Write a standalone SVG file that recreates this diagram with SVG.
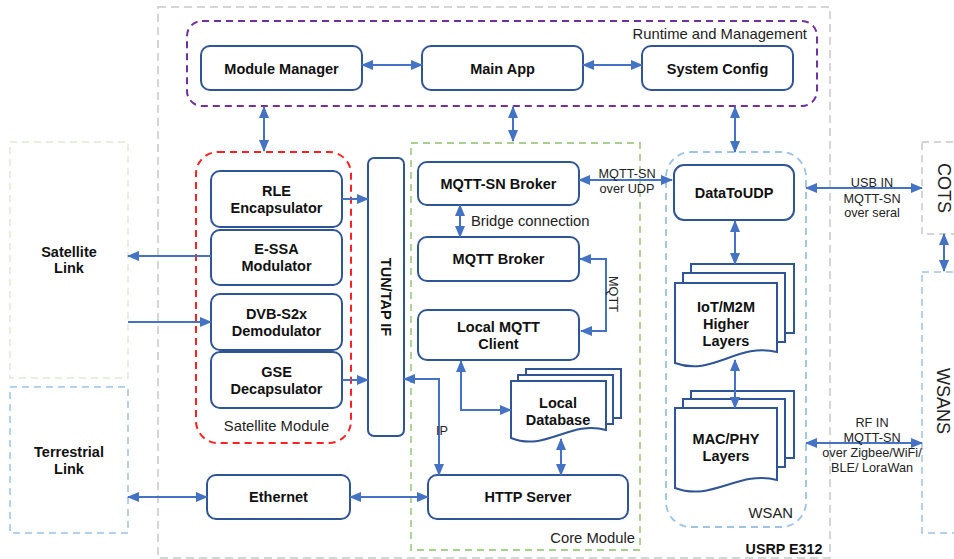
<svg xmlns="http://www.w3.org/2000/svg" width="954" height="559" viewBox="0 0 954 559">
<style>
.box{fill:#fff;stroke:#2F5597;stroke-width:2}
.doc{fill:#fff;stroke:#2F5597;stroke-width:2;stroke-linejoin:miter}
.t{font-family:"Liberation Sans",Arial,sans-serif;font-weight:bold;font-size:14.5px;fill:#111;text-anchor:middle}
.l{font-family:"Liberation Sans",Arial,sans-serif;font-size:14.8px;fill:#222}
.s{font-family:"Liberation Sans",Arial,sans-serif;font-size:12.7px;fill:#222;text-anchor:middle}
.big{font-family:"Liberation Sans",Arial,sans-serif;font-size:18px;fill:#222;text-anchor:middle}
.grp{fill:none}
.c{fill:none;stroke:#4472C4;stroke-width:2;marker-end:url(#ah)}
.cb{fill:none;stroke:#4472C4;stroke-width:2;marker-end:url(#ah);marker-start:url(#ah)}
</style>
<defs>
<marker id="ah" markerUnits="userSpaceOnUse" markerWidth="12" markerHeight="10" viewBox="0 0 12 10" refX="11" refY="5" orient="auto-start-reverse">
<path d="M0,0 L12,5 L0,10 z" fill="#4472C4"/>
</marker>
</defs>
<rect width="954" height="559" fill="#fff"/>

<!-- groups -->
<g id="usrp">
<rect class="grp" x="158" y="7" width="672" height="551" stroke="#C8C8C8" stroke-width="1.5" stroke-dasharray="8 5"/>
<text class="t" x="784" y="554" style="font-size:14.3px">USRP E312</text>
</g>
<g id="runtime">
<rect class="grp" x="187" y="21" width="630" height="85" rx="15" stroke="#7030A0" stroke-width="2" stroke-dasharray="7 5"/>
<text class="l" x="807" y="39" text-anchor="end">Runtime and Management</text>
</g>
<g id="satellite-module">
<rect class="grp" x="196" y="152" width="155" height="291" rx="22" stroke="#FF2020" stroke-width="2" stroke-dasharray="7 5"/>
<text class="l" x="276.5" y="431" text-anchor="middle">Satellite Module</text>
</g>
<g id="core-module">
<rect class="grp" x="411" y="143" width="229" height="407" stroke="#A9D18E" stroke-width="1.8" stroke-dasharray="7 5"/>
<text class="l" x="635" y="543" text-anchor="end">Core Module</text>
</g>
<g id="wsan">
<rect class="grp" x="666" y="152" width="140" height="375" rx="25" stroke="#9DC3E6" stroke-width="1.8" stroke-dasharray="7 5"/>
<text class="l" x="793" y="518" text-anchor="end">WSAN</text>
</g>
<g id="satellite-link">
<rect class="grp" x="10" y="142" width="118" height="236" stroke="#DCEBD0" stroke-width="1.5" stroke-dasharray="7 5"/>
<text class="t" x="69" y="257">Satellite</text>
<text class="t" x="69" y="273">Link</text>
</g>
<g id="terrestrial-link">
<rect class="grp" x="10" y="387" width="118" height="146" stroke="#9DC3E6" stroke-width="1.5" stroke-dasharray="7 5"/>
<text class="t" x="69" y="457">Terrestrial</text>
<text class="t" x="69" y="474">Link</text>
</g>
<g id="cots">
<rect class="grp" x="922" y="142" width="50" height="92" stroke="#C8C8C8" stroke-width="1.5" stroke-dasharray="7 5"/>
<text class="big" transform="translate(938,188) rotate(90)">COTS</text>
</g>
<g id="wsans">
<rect class="grp" x="922" y="272" width="50" height="261" stroke="#9DC3E6" stroke-width="1.5" stroke-dasharray="7 5"/>
<text class="big" transform="translate(937,401) rotate(90)">WSANS</text>
</g>

<!-- nodes -->
<g id="module-manager"><rect class="box" x="201" y="46" width="161" height="44" rx="9"/><text class="t" x="281.5" y="74">Module Manager</text></g>
<g id="main-app"><rect class="box" x="422" y="46" width="161" height="44" rx="9"/><text class="t" x="502.5" y="74">Main App</text></g>
<g id="system-config"><rect class="box" x="642" y="46" width="151" height="44" rx="9"/><text class="t" x="717.5" y="74">System Config</text></g>

<g id="rle"><rect class="box" x="211" y="171" width="131" height="56" rx="9"/><text class="t" x="276.5" y="196">RLE</text><text class="t" x="276.5" y="213">Encapsulator</text></g>
<g id="essa"><rect class="box" x="211" y="230" width="131" height="55" rx="9"/><text class="t" x="276.5" y="254">E-SSA</text><text class="t" x="276.5" y="271">Modulator</text></g>
<g id="dvb"><rect class="box" x="211" y="294" width="131" height="56" rx="9"/><text class="t" x="276.5" y="319">DVB-S2x</text><text class="t" x="276.5" y="336">Demodulator</text></g>
<g id="gse"><rect class="box" x="211" y="352" width="131" height="56" rx="9"/><text class="t" x="276.5" y="377">GSE</text><text class="t" x="276.5" y="394">Decapsulator</text></g>

<g id="tuntap"><rect class="box" x="368" y="158" width="36" height="278" rx="6"/><text class="t" transform="translate(381,297) rotate(90)">TUN/TAP IF</text></g>

<g id="ethernet"><rect class="box" x="207" y="475" width="143" height="44" rx="9"/><text class="t" x="278.5" y="502">Ethernet</text></g>

<g id="mqttsn-broker"><rect class="box" x="418" y="162" width="161" height="43" rx="9"/><text class="t" x="498.5" y="189">MQTT-SN Broker</text></g>
<g id="mqtt-broker"><rect class="box" x="418" y="237" width="161" height="44" rx="9"/><text class="t" x="498.5" y="264">MQTT Broker</text></g>
<g id="local-mqtt-client"><rect class="box" x="418" y="310" width="161" height="50" rx="9"/><text class="t" x="498.5" y="332">Local MQTT</text><text class="t" x="498.5" y="349">Client</text></g>

<g id="local-database">
<rect class="doc" x="526" y="369" width="95" height="49"/>
<rect class="doc" x="518" y="375" width="95" height="49"/>
<path class="doc" d="M511,381 H606 V430 C570,420 545,452 511,438 Z"/>
<text class="t" x="558" y="408">Local</text><text class="t" x="558" y="425">Database</text>
</g>

<g id="http-server"><rect class="box" x="428" y="475" width="200" height="44" rx="9"/><text class="t" x="528" y="502">HTTP Server</text></g>

<g id="datatoudp"><rect class="box" x="674" y="165" width="120" height="55" rx="10"/><text class="t" x="734" y="198">DataToUDP</text></g>

<g id="iot-m2m">
<rect class="doc" x="691" y="264" width="103" height="69"/>
<rect class="doc" x="683" y="273" width="102" height="69"/>
<path class="doc" d="M675,283 H777 V352 C738,342 712,377 675,363 Z"/>
<text class="t" x="726" y="312">IoT/M2M</text><text class="t" x="726" y="329">Higher</text><text class="t" x="726" y="346">Layers</text>
</g>

<g id="mac-phy">
<rect class="doc" x="691" y="391" width="103" height="67"/>
<rect class="doc" x="683" y="399" width="102" height="68"/>
<path class="doc" d="M675,408 H777 V480 C738,470 712,502 675,488 Z"/>
<text class="t" x="726" y="444">MAC/PHY</text><text class="t" x="726" y="461">Layers</text>
</g>

<!-- connectors -->
<g id="connectors">
<path class="cb" d="M362,65 H422"/>
<path class="cb" d="M583,65 H642"/>
<path class="cb" d="M264,107 V151"/>
<path class="cb" d="M513,107 V141"/>
<path class="cb" d="M735,107 V152"/>
<path class="c" d="M342,199 H368"/>
<path class="c" d="M342,380 H368"/>
<path class="c" d="M211,256 H128"/>
<path class="c" d="M128,322 H211"/>
<path class="cb" d="M128,497 H207"/>
<path class="cb" d="M350,497 H428"/>
<path class="cb" d="M579,180 H672"/>
<path class="cb" d="M460,205 V237"/>
<path class="cb" d="M580,259 H606 V331 H581"/>
<path class="cb" d="M404,379 H439 V475"/>
<path class="cb" d="M461,361 V410 H511"/>
<path class="cb" d="M561,439 V475"/>
<path class="cb" d="M735,221 V264"/>
<path class="cb" d="M735,360 V408"/>
<path class="cb" d="M806,188 H922"/>
<path class="cb" d="M806,443 H922"/>
<path class="cb" d="M944,234 V271"/>
<text class="s" x="627" y="178">MQTT-SN</text>
<text class="s" x="627" y="193">over UDP</text>
<text class="l" x="471" y="226">Bridge connection</text>
<text class="s" transform="translate(609,294) rotate(90)">MQTT</text>
<text class="s" x="442" y="435" text-anchor="start">IP</text>
<text class="s" x="872" y="187">USB IN</text>
<text class="s" x="872" y="203">MQTT-SN</text>
<text class="s" x="872" y="217">over seral</text>
<text class="s" x="872" y="427">RF IN</text>
<text class="s" x="872" y="442">MQTT-SN</text>
<text class="s" x="872" y="457">over Zigbee/WiFi/</text>
<text class="s" x="872" y="472">BLE/ LoraWan</text>
</g>
</svg>
